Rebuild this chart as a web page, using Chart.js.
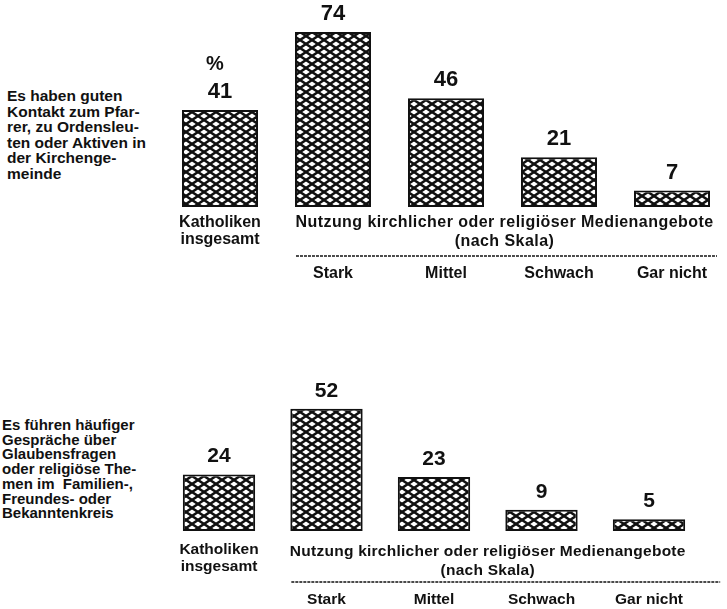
<!DOCTYPE html>
<html><head><meta charset="utf-8">
<script src="https://cdn.jsdelivr.net/npm/chart.js@4/dist/chart.umd.min.js"></script>
<style>
html,body{margin:0;padding:0;background:#fff;overflow:hidden;width:727px;height:609px;}
.desc{position:absolute;font-family:"Liberation Sans",Arial,sans-serif;font-weight:bold;color:#111;white-space:pre;}
canvas{position:absolute;left:0;}
</style></head><body>
<div id="d1" class="desc" style="left:7px;top:88px;font-size:15.5px;line-height:15.6px"></div>
<div id="d2" class="desc" style="left:2px;top:418px;font-size:15px;line-height:14.7px"></div>
<canvas id="c1" width="740" height="290" style="top:0"></canvas>
<canvas id="c2" width="740" height="309" style="top:300px"></canvas>
<script>
const categories = ["Katholiken insgesamt", "Stark", "Mittel", "Schwach", "Gar nicht"];
const tickLabels = [["Katholiken", "insgesamt"], ["", "", "", "Stark"], ["", "", "", "Mittel"], ["", "", "", "Schwach"], ["", "", "", "Gar nicht"]];
const contactValues = [41, 74, 46, 21, 7];
const talkValues = [24, 52, 23, 9, 5];
const groupLabel = ["Nutzung kirchlicher oder religiöser Medienangebote", "(nach Skala)"];
const unitLabel = "%";
const contactText = ["Es haben guten", "Kontakt zum Pfar-", "rer, zu Ordensleu-", "ten oder Aktiven in", "der Kirchenge-", "meinde"];
const talkText = ["Es führen häufiger", "Gespräche über", "Glaubensfragen", "oder religiöse The-", "men im  Familien-,", "Freundes- oder", "Bekanntenkreis"];

document.getElementById('d1').textContent = contactText.join('\n');
document.getElementById('d2').textContent = talkText.join('\n');

const FAMILY = '"Liberation Sans", Arial, Helvetica, sans-serif';

function hatch(w, h, lw) {
  const c = document.createElement('canvas');
  c.width = w; c.height = h;
  const g = c.getContext('2d');
  g.fillStyle = '#fff'; g.fillRect(0, 0, w, h);
  g.strokeStyle = '#111'; g.lineWidth = lw;
  for (let k = -1; k <= 1; k++) {
    g.beginPath(); g.moveTo(k * w - w, -h); g.lineTo(k * w + 2 * w, 2 * h); g.stroke();
    g.beginPath(); g.moveTo(k * w - w, 2 * h); g.lineTo(k * w + 2 * w, -h); g.stroke();
  }
  return c;
}

const annot = {
  id: 'annot',
  afterDraw(chart, args, o) {
    const ctx = chart.ctx;
    const meta = chart.getDatasetMeta(0);
    const data = chart.data.datasets[0].data;
    ctx.save();
    ctx.fillStyle = '#111';
    ctx.textAlign = 'center';
    ctx.textBaseline = 'middle';
    ctx.font = 'bold ' + o.valueSize + 'px ' + FAMILY;
    meta.data.forEach((bar, i) => {
      ctx.fillText(String(data[i]), bar.x, bar.y - o.valueGap);
    });
    if (o.unit) {
      const b = meta.data[0];
      ctx.font = 'bold ' + (o.valueSize - 2) + 'px ' + FAMILY;
      ctx.fillText(unitLabel, b.x - 5, b.y - o.valueGap - 28);
    }
    const b1 = meta.data[1], b4 = meta.data[4];
    const left = b1.x - b1.width / 2, right = b4.x + b4.width / 2;
    const cx = (left + right) / 2 + o.shift;
    const y0 = chart.chartArea.bottom + o.firstLine;
    ctx.font = 'bold ' + o.labelSize + 'px ' + FAMILY;
    ctx.letterSpacing = o.spacing + 'px';
    ctx.fillText(groupLabel[0], cx, y0);
    ctx.fillText(groupLabel[1], cx, y0 + o.secondGap);
    ctx.letterSpacing = '0px';
    ctx.strokeStyle = '#111';
    ctx.lineWidth = 1.4;
    ctx.setLineDash([3, 1]);
    ctx.beginPath();
    ctx.moveTo(left + 1, y0 + o.dashGap);
    ctx.lineTo(right + o.dashExtra, y0 + o.dashGap);
    ctx.stroke();
    ctx.restore();
  }
};

function makeChart(id, values, cfg) {
  const ctx = document.getElementById(id).getContext('2d');
  const pattern = ctx.createPattern(hatch(12, 8, 2.5), 'repeat');
  return new Chart(ctx, {
    type: 'bar',
    data: {
      labels: tickLabels,
      datasets: [{
        data: values,
        backgroundColor: pattern,
        borderColor: '#111',
        borderWidth: 2,
        borderSkipped: false,
        barPercentage: 0.673,
        categoryPercentage: 1
      }]
    },
    options: {
      responsive: false,
      animation: false,
      devicePixelRatio: 1,
      layout: { padding: { left: cfg.padLeft, right: cfg.padRight, top: 0, bottom: 0 } },
      scales: {
        x: {
          offset: true,
          grid: { display: false, drawTicks: false, drawOnChartArea: false },
          border: { display: false },
          ticks: {
            color: '#111',
            padding: cfg.tickPad,
            autoSkip: false,
            maxRotation: 0,
            font: { family: FAMILY, size: cfg.labelSize, weight: 'bold', lineHeight: 16.7 / cfg.labelSize }
          },
          afterFit: (s) => { s.height = cfg.axisH; }
        },
        y: { display: false, min: 0, max: cfg.yMax }
      },
      plugins: {
        legend: { display: false },
        tooltip: { enabled: false },
        annot: {
          valueSize: cfg.valueSize, valueGap: 18, unit: cfg.unit,
          labelSize: cfg.labelSize, firstLine: cfg.firstLine, secondGap: 18.5,
          dashGap: cfg.dashGap, dashExtra: cfg.dashExtra, spacing: cfg.spacing, shift: cfg.shift
        }
      }
    },
    plugins: [annot]
  });
}

makeChart('c1', contactValues, {
  padLeft: 163.5, padRight: 11.5, axisH: 83, yMax: 87.5, tickPad: 7.65,
  labelSize: 16, valueSize: 22, unit: true, firstLine: 16, dashGap: 33, dashExtra: 7,
  spacing: 0.45, shift: 2
});
makeChart('c2', talkValues, {
  padLeft: 165.25, padRight: 37.25, axisH: 78, yMax: 98.3, tickPad: 10.65,
  labelSize: 15.5, valueSize: 21, unit: false, firstLine: 21, dashGap: 30, dashExtra: 35,
  spacing: 0.25, shift: 0
});
</script>
</body></html>
